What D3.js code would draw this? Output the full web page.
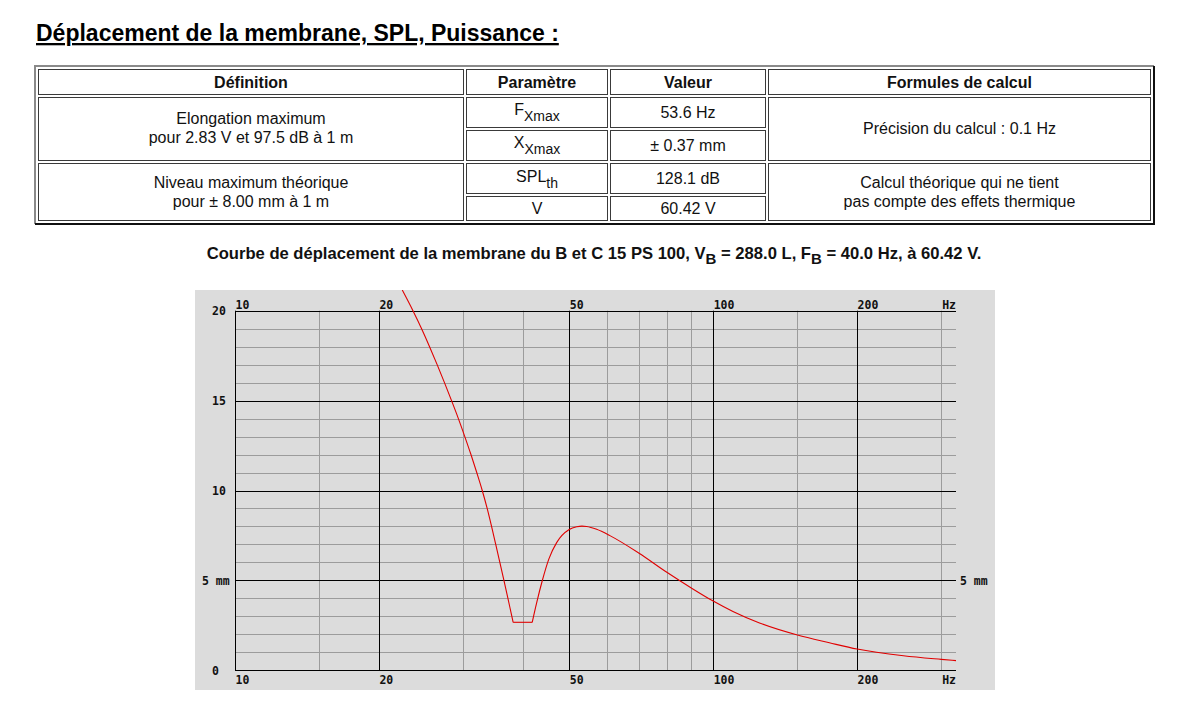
<!DOCTYPE html>
<html>
<head>
<meta charset="utf-8">
<script src="https://cdn.jsdelivr.net/npm/d3@7"></script>
<style>
  body { margin: 0; background: #fff; }
  svg { display: block; }
</style>
</head>
<body>
<svg id="page" width="1187" height="701"></svg>
<script>
// titres
const pageTitle = "Déplacement de la membrane, SPL, Puissance :";
const chartTitle = [["Courbe de déplacement de la membrane du B et C 15 PS 100, V", ""], ["B", "sub"],
    [" = 288.0 L, F", ""], ["B", "sub"], [" = 40.0 Hz, à 60.42 V.", ""]];

// tableau
const headers = ["Définition", "Paramètre", "Valeur", "Formules de calcul"];
const definitions = [["Elongation maximum", "pour 2.83 V et 97.5 dB à 1 m"],
                     ["Niveau maximum théorique", "pour ± 8.00 mm à 1 m"]];
const params = [["F", "Xmax"], ["X", "Xmax"], ["SPL", "th"], ["V", ""]];
const values = ["53.6 Hz", "± 0.37 mm", "128.1 dB", "60.42 V"];
const formulas = [["Précision du calcul : 0.1 Hz"],
                  ["Calcul théorique qui ne tient", "pas compte des effets thermique"]];

// courbe (Hz, mm) : descente jusqu'au palier, puis remontée
const freqsDown = [22.38, 23.56, 24.56, 25.52, 26.47, 27.42, 28.37, 29.32, 30.24, 31.15, 32.03,
                   32.89, 33.68, 34.40, 35.10, 35.80, 36.51, 37.22, 37.93, 38.17];
const dispDown = [21.15, 20, 19, 18, 17, 16, 15, 14, 13, 12, 11,
                  10, 9, 8, 7, 6, 5, 4, 3, 2.67];
const freqsUp = [41.84, 42.74, 43.91, 45.34, 47.06, 50.0, 51.82, 53.15, 54.37, 57.05, 60.82,
                 70, 80, 90, 100, 110, 125, 150, 175, 200, 250, 300, 322];
const dispUp = [2.67, 3.75, 4.98, 6.2, 7.1, 7.83, 7.98, 8.02, 8.0, 7.84, 7.49,
                6.51, 5.45, 4.58, 3.85, 3.27, 2.63, 1.96, 1.53, 1.18, 0.81, 0.61, 0.54];

// axes
const freqGrid = [10, 15, 20, 30, 40, 50, 60, 70, 80, 90, 100, 150, 200, 300];
const freqMajor = [10, 20, 50, 100, 200];
const freqLabels = ["10", "20", "50", "100", "200"];
const mmGrid = d3.range(0, 21);
const mmLabels = [[0, "0"], [5, "5 mm"], [10, "10"], [15, "15"], [20, "20"]];

const svg = d3.select('#page');
const sans = "Arial, 'Liberation Sans', sans-serif";
const mono = "'DejaVu Sans Mono', 'Liberation Mono', monospace";

/* Titre de page */
svg.append('text')
    .attr('x', 36).attr('y', 41)
    .attr('font-family', sans).attr('font-weight', 'bold').attr('font-size', 23)
    .style('text-decoration', 'underline')
    .text(pageTitle);

/* Tableau */
const colX = [[38, 464], [466, 608], [610, 766], [768, 1151]];
const rowY = [[69, 95], [97, 128], [130, 161], [163, 194], [196, 221]];
const table = svg.append('g').attr('class', 'table');

// cadre extérieur
table.append('path').attr('d', 'M35,224 V66 H1154').attr('fill', 'none')
    .attr('stroke', '#8a8a8a').attr('stroke-width', 2);
table.append('path').attr('d', 'M35,224 H1154 V66').attr('fill', 'none')
    .attr('stroke', '#111').attr('stroke-width', 2);

function cell(c0, c1, r0, r1) {
    table.append('rect')
        .attr('x', colX[c0][0] + 0.5).attr('y', rowY[r0][0] + 0.5)
        .attr('width', colX[c1][1] - colX[c0][0] - 1)
        .attr('height', rowY[r1][1] - rowY[r0][0] - 1)
        .attr('fill', 'none').attr('stroke', '#3a3a3a').attr('stroke-width', 1);
}
function cellText(c, y, lines, bold) {
    const cx = (colX[c][0] + colX[c][1]) / 2;
    lines.forEach((t, i) => {
        table.append('text')
            .attr('x', cx).attr('y', y + i * 19)
            .attr('text-anchor', 'middle')
            .attr('font-family', sans).attr('font-size', 16)
            .attr('font-weight', bold ? 'bold' : 'normal')
            .attr('fill', '#111')
            .text(t);
    });
}

headers.forEach((h, i) => { cell(i, i, 0, 0); cellText(i, 88, [h], true); });

cell(0, 0, 1, 2); cell(0, 0, 3, 4);
cellText(0, 124, definitions[0]);
cellText(0, 188, definitions[1]);

cell(3, 3, 1, 2); cell(3, 3, 3, 4);
cellText(3, 134, formulas[0]);
cellText(3, 188, formulas[1]);

const paramBase = [115, 148, 182, 214];
const valueBase = [118, 151, 184, 214];
params.forEach((p, i) => {
    cell(1, 1, i + 1, i + 1);
    cell(2, 2, i + 1, i + 1);
    const t = table.append('text')
        .attr('x', (colX[1][0] + colX[1][1]) / 2).attr('y', paramBase[i])
        .attr('text-anchor', 'middle')
        .attr('font-family', sans).attr('font-size', 16).attr('fill', '#111');
    t.append('tspan').text(p[0]);
    if (p[1]) t.append('tspan').attr('dy', 6).attr('font-size', 14).text(p[1]);
    cellText(2, valueBase[i], [values[i]]);
});

/* Titre du graphique */
const ct = svg.append('text')
    .attr('x', 594).attr('y', 259)
    .attr('text-anchor', 'middle')
    .attr('font-family', sans).attr('font-weight', 'bold').attr('font-size', 16.6)
    .attr('fill', '#111');
chartTitle.forEach(([t, kind], i) => {
    const s = ct.append('tspan').text(t);
    if (kind == 'sub') s.attr('dy', 5).attr('font-size', 15);
    else if (i > 0) s.attr('dy', -5);
});

/* Graphique */
const panel = { x: 195, y: 290, w: 800, h: 400 };
const plot = { left: 235, right: 956, top: 310.7, bottom: 670.3 };

const x = d3.scaleLog().domain([10, 322]).range([plot.left, plot.right]);
const y = d3.scaleLinear().domain([0, 20]).range([plot.bottom, plot.top]);

const chart = svg.append('g').attr('class', 'chart');
chart.append('rect')
    .attr('x', panel.x).attr('y', panel.y).attr('width', panel.w).attr('height', panel.h)
    .attr('fill', '#dcdcdc');

svg.append('clipPath').attr('id', 'panel-clip')
    .append('rect')
    .attr('x', panel.x).attr('y', panel.y).attr('width', panel.w).attr('height', panel.h);

// grille fine puis grille principale
const minorH = mmGrid.filter(d => d % 5 != 0);
const majorH = mmGrid.filter(d => d % 5 == 0);
const minorV = freqGrid.filter(d => freqMajor.indexOf(d) < 0);

chart.append('g').selectAll('line')
    .data(minorH).enter().append('line')
        .attr('x1', plot.left).attr('x2', plot.right)
        .attr('y1', d => Math.round(y(d)) + 0.5).attr('y2', d => Math.round(y(d)) + 0.5)
        .attr('stroke', '#9c9c9c');
chart.append('g').selectAll('line')
    .data(minorV).enter().append('line')
        .attr('x1', d => Math.round(x(d)) + 0.5).attr('x2', d => Math.round(x(d)) + 0.5)
        .attr('y1', plot.top).attr('y2', plot.bottom)
        .attr('stroke', '#9c9c9c');
chart.append('g').selectAll('line')
    .data(majorH).enter().append('line')
        .attr('x1', plot.left).attr('x2', plot.right)
        .attr('y1', d => Math.round(y(d)) + 0.5).attr('y2', d => Math.round(y(d)) + 0.5)
        .attr('stroke', '#000');
chart.append('g').selectAll('line')
    .data(freqMajor).enter().append('line')
        .attr('x1', d => Math.round(x(d)) + 0.5).attr('x2', d => Math.round(x(d)) + 0.5)
        .attr('y1', plot.top).attr('y2', plot.bottom)
        .attr('stroke', '#000');

// étiquettes des fréquences, en haut et en bas
const labelStyle = sel => sel
    .attr('font-family', mono).attr('font-weight', 'bold').attr('font-size', 11.5)
    .attr('fill', '#111');

[plot.top - 2, plot.bottom + 14].forEach(yy => {
    chart.append('g').selectAll('text')
        .data(freqMajor).enter().append('text')
            .attr('x', d => x(d) + 0.5).attr('y', yy)
            .text((d, i) => freqLabels[i])
            .call(labelStyle);
    chart.append('text')
        .attr('x', plot.right).attr('y', yy)
        .attr('text-anchor', 'end')
        .text('Hz')
        .call(labelStyle);
});

// étiquettes en mm
chart.append('g').selectAll('text')
    .data(mmLabels).enter().append('text')
        .attr('x', d => d[1].length > 2 ? 202 : 212)
        .attr('y', d => y(d[0]) + 4.5)
        .text(d => d[1])
        .call(labelStyle);
chart.append('text')
    .attr('x', 960).attr('y', y(5) + 4.5)
    .text('5 mm')
    .call(labelStyle);

// courbe de déplacement : deux branches lissées reliées par le palier
const down = d3.zip(freqsDown, dispDown);
const up = d3.zip(freqsUp, dispUp);
const smooth = d3.line().x(d => x(d[0])).y(d => y(d[1])).curve(d3.curveMonotoneX);
const straight = d3.line().x(d => x(d[0])).y(d => y(d[1]));

const curveG = chart.append('g')
    .attr('clip-path', 'url(#panel-clip)')
    .attr('fill', 'none')
    .attr('stroke', '#e00000')
    .attr('stroke-width', 1.1);

curveG.append('path').datum(down).attr('d', smooth);
curveG.append('path').datum([down[down.length - 1], up[0]]).attr('d', straight);
curveG.append('path').datum(up).attr('d', smooth);
</script>
</body>
</html>
